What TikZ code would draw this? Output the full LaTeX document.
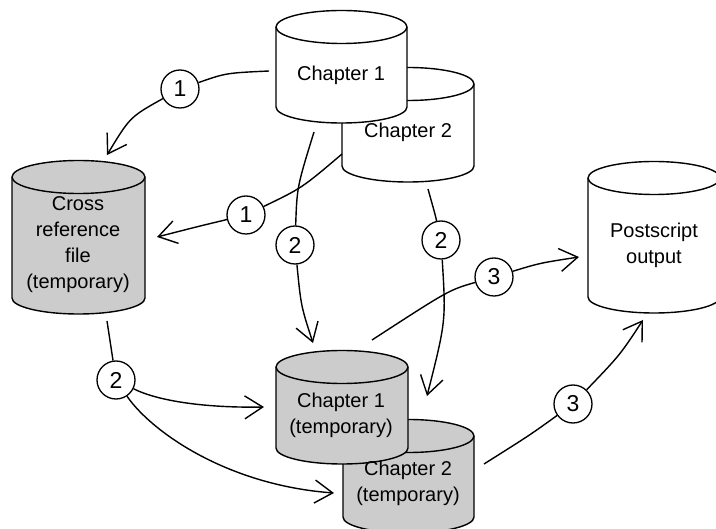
\documentclass[tikz,border=0pt]{standalone}
\usepackage{fontspec}
\setmainfont{Liberation Sans}
\usetikzlibrary{arrows.meta}
\definecolor{cylgray}{HTML}{CCCCCC}
\tikzset{
  conn/.style={line width=1.4pt},
  arr/.style={conn,-{Straight Barb[length=18pt,width=23pt,line width=1.4pt]}},
  num/.style={circle,draw,fill=white,line width=1.3pt,minimum size=38pt,inner sep=0pt,font=\fontsize{23}{26}\selectfont},
  lab/.style={align=center,inner sep=0pt,font=\fontsize{20}{26}\selectfont}
}
% x-left, x-right, top-ellipse centre y, bottom side end y, fill
\newcommand{\cylshape}[5]{%
  \path[draw=black,line width=1.4pt,fill=#5]
    (#1,#3) -- (#1,#4) arc[start angle=180,end angle=0,x radius={(#2-#1)/2},y radius=16]
    -- (#2,#3) arc[start angle=0,end angle=-180,x radius={(#2-#1)/2},y radius=16.5] -- cycle;
  \path[draw=black,line width=1.4pt]
    (#1,#3) arc[start angle=180,end angle=0,x radius={(#2-#1)/2},y radius=16.5];
}
\begin{document}
\begin{tikzpicture}[x=1pt,y=-1pt]
\useasboundingbox (0,0) rectangle (716,529);
\clip (0,0) rectangle (716,529);
\fill[white] (0,0) rectangle (716,529);
% cylinders
\cylshape{12}{145}{177}{298}{cylgray}
\node[lab] (xref) at (78,245) {Cross\\reference\\file\\(temporary)};
\cylshape{588}{720}{178}{297}{white}
\node[lab] (post) at (654,245) {Postscript\\output};
\cylshape{342}{474}{84}{166}{white}
\cylshape{276}{407}{27}{107}{white}
\node[lab] (ch1) at (341,75) {Chapter 1};
\node[lab] (ch2) at (408,132) {Chapter 2};
\cylshape{343}{474}{436}{517}{cylgray}
\cylshape{276}{408}{367}{448}{cylgray}
\node[lab] (t1) at (341,415) {Chapter 1\\(temporary)};
\node[lab] (t2) at (408,483) {Chapter 2\\(temporary)};
% free ends
\coordinate (a0) at (269,71);   \coordinate (a1) at (107,155);
\coordinate (b0) at (342,154);  \coordinate (b1) at (157,237);
\coordinate (c0) at (314,132);  \coordinate (c1) at (313,343);
\coordinate (d0) at (428,189);  \coordinate (d1) at (427,396);
\coordinate (e0) at (372,340);  \coordinate (e1) at (579,257);
\coordinate (f0) at (484,464);  \coordinate (f1) at (643,320);
\coordinate (g0) at (107,321);  \coordinate (g1) at (264,407);
\coordinate (g2) at (334,493);
% badges
\node[num] (na) at (180,89) {1};
\node[num] (nb) at (246,215) {1};
\node[num] (nc) at (295,245) {2};
\node[num] (nd) at (441,240) {2};
\node[num] (ne) at (494,277) {3};
\node[num] (nf) at (573,404) {3};
\node[num] (ng) at (116,380) {2};
% connectors
\draw[conn] (a0) .. controls (226,73) .. (na);
\draw[arr]  (na) .. controls (130,117) .. (a1);
\draw[conn] (b0) .. controls (302,188) .. (nb);
\draw[arr]  (nb) .. controls (200,226) .. (b1);
\draw[conn] (c0) .. controls (297,187) .. (nc);
\draw[arr]  (nc) .. controls (301,306) .. (c1);
\draw[conn] (d0) .. controls (435,214) .. (nd);
\draw[arr]  (nd) .. controls (446,321) .. (d1);
\draw[conn] (e0) .. controls (449,290) .. (ne);
\draw[arr]  (ne) .. controls (540,263) .. (e1);
\draw[conn] (f0) .. controls (530,435) .. (nf);
\draw[arr]  (nf) .. controls (620,355) .. (f1);
\draw[conn] (g0) -- (ng);
\draw[arr]  (ng) .. controls (160,402) and (210,408) .. (g1);
\draw[arr]  (ng) .. controls (150,430) and (225,485) .. (g2);
\end{tikzpicture}
\end{document}
